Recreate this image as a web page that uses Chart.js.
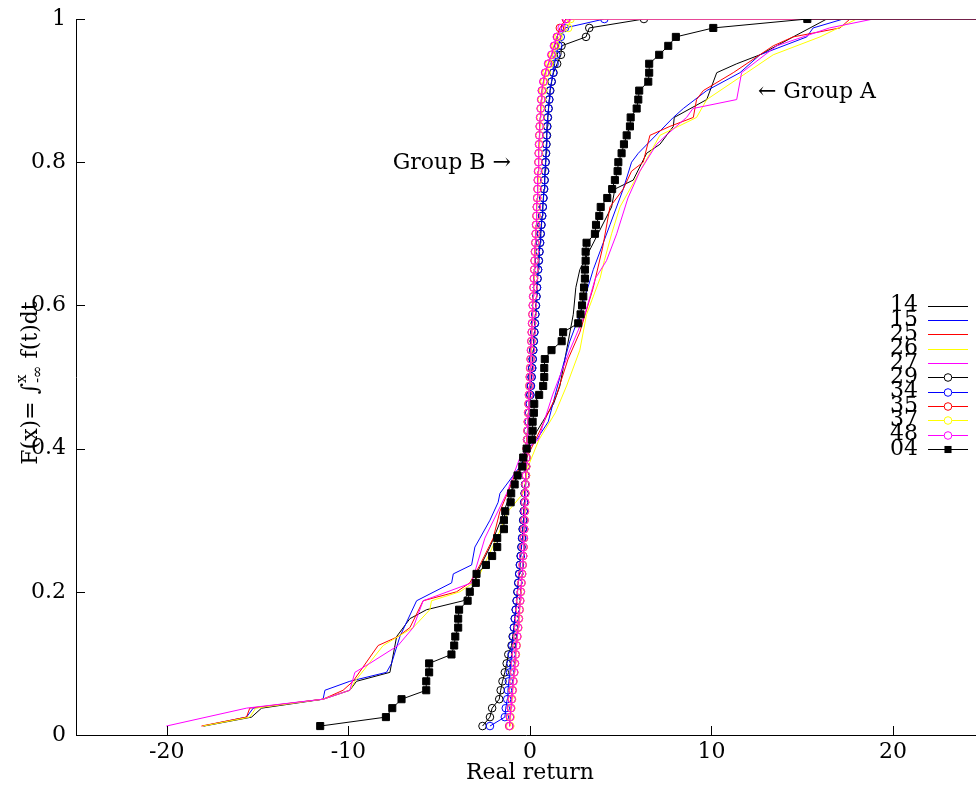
<!DOCTYPE html>
<html><head><meta charset="utf-8">
<script src="https://cdn.jsdelivr.net/npm/chart.js@4.4.1/dist/chart.umd.min.js"></script>
<style>html,body{margin:0;padding:0;background:#fff;overflow:hidden}</style>
</head><body>
<canvas id="c" width="976" height="786" style="display:block"></canvas>
<script>
const FONT = "'DejaVu Serif', serif";
const xTicks = [-20, -10, 0, 10, 20];
const xTickLabels = ['-20', '-10', '0', '10', '20'];
const yTicks = [0, 0.2, 0.4, 0.6, 0.8, 1];
const yTickLabels = ['0', '0.2', '0.4', '0.6', '0.8', '1'];
const xMin = -25, xMax = 24.57;
const tailX = 26;
const xTitle = 'Real return';
const annoA = {text: '\u2190 Group A', x: 12.56, y: 0.898};
const annoB = {text: 'Group B \u2192', x: -1.05, y: 0.799};

const seriesNames = ['14','15','25','26','27','29','34','35','37','48','04'];
const seriesColors = ['#000000','#0000ff','#ff0000','#ffff00','#ff00ff','#000000','#0000ff','#ff0000','#ffff00','#ff00ff','#000000'];

// cumulative levels for the 80-point marked series
const levels = [0.0125,0.025,0.0375,0.05,0.0625,0.075,0.0875,0.1,
0.1125,0.125,0.1375,0.15,0.1625,0.175,0.1875,0.2,
0.2125,0.225,0.2375,0.25,0.2625,0.275,0.2875,0.3,
0.3125,0.325,0.3375,0.35,0.3625,0.375,0.3875,0.4,
0.4125,0.425,0.4375,0.45,0.4625,0.475,0.4875,0.5,
0.5125,0.525,0.5375,0.55,0.5625,0.575,0.5875,0.6,
0.6125,0.625,0.6375,0.65,0.6625,0.675,0.6875,0.7,
0.7125,0.725,0.7375,0.75,0.7625,0.775,0.7875,0.8,
0.8125,0.825,0.8375,0.85,0.8625,0.875,0.8875,0.9,
0.9125,0.925,0.9375,0.95,0.9625,0.975,0.9875,1];

// Group A (lines)
const s14x = [-17.96,-15.33,-14.78,-11.39,-9.92,-9.55,-7.71,-7.34,-6.61,-5.69,-3.67,-3.03,-2.94,-2.2,-1.6,-0.9,-0.3,0.1,0.7,1.3,1.65,2.02,2.39,2.53,2.75,4.5,4.68,5.69,6.43,7.16,7.9,7.95,9.74,10.29,11.39,12.67,14.5,15.43,16.35];
const s14y = [0.0125,0.025,0.0375,0.05,0.0625,0.075,0.0875,0.1375,0.1625,0.175,0.1875,0.2125,0.225,0.2625,0.3,0.35,0.3875,0.4125,0.4375,0.4625,0.4875,0.5375,0.5875,0.625,0.65,0.7375,0.7625,0.775,0.8125,0.825,0.85,0.8625,0.8875,0.925,0.9375,0.95,0.975,0.9875,1];

const s15x = [-18.0,-15.61,-15.24,-11.39,-11.29,-9.92,-7.9,-7.62,-7.16,-6.24,-4.31,-4.22,-3.21,-3.03,-2.75,-2.2,-1.75,-1.65,-0.55,-0.09,0.37,1.01,1.65,2.2,2.75,3.49,4.41,5.14,5.6,5.97,7.9,8.45,9.74,11.57,12.67,15.25,15.6,17.26];
const s15y = [0.0125,0.025,0.0375,0.05,0.0625,0.075,0.0875,0.1,0.1375,0.1875,0.2125,0.225,0.2375,0.2625,0.275,0.3,0.325,0.3375,0.375,0.4,0.4125,0.4375,0.5,0.55,0.5875,0.65,0.7125,0.7625,0.8,0.8125,0.8625,0.875,0.9,0.925,0.95,0.975,0.9875,1];

const s25x = [-18.09,-15.61,-15.43,-11.39,-10.29,-9.74,-8.36,-7.26,-6.61,-5.88,-4.04,-3.31,-2.75,-2.02,-1.65,-0.83,-0.17,0.55,1.47,2.1,2.75,3.49,4.0,4.41,5.14,5.6,6.24,6.61,7.71,9.0,9.18,9.55,11.2,13.4,14.5,17.08,17.63];
const s25y = [0.0125,0.025,0.0375,0.05,0.0625,0.075,0.125,0.1375,0.15,0.1875,0.2,0.2125,0.2375,0.275,0.3125,0.3625,0.3875,0.425,0.475,0.525,0.5625,0.625,0.68,0.7375,0.7625,0.7875,0.8,0.8375,0.85,0.8625,0.8875,0.9,0.925,0.9625,0.975,0.9875,1];

const s26x = [-18.0,-15.43,-15.1,-11.4,-9.92,-9.64,-8.08,-7.26,-6.43,-5.51,-5.42,-3.86,-3.12,-2.75,-1.83,-1.2,-0.37,-0.1,0.5,1.4,2.02,2.75,3.12,3.86,4.1,4.5,4.96,6.34,7.16,9.18,9.74,11.94,13.4,15.98,18.0];
const s26y = [0.0125,0.025,0.0375,0.05,0.0625,0.075,0.125,0.1375,0.15,0.175,0.1875,0.2,0.2125,0.225,0.275,0.3125,0.3375,0.375,0.4125,0.45,0.4875,0.5375,0.5875,0.6375,0.6625,0.7,0.7375,0.8,0.8375,0.8625,0.8875,0.925,0.95,0.975,1];

const s27x = [-20.02,-15.61,-11.39,-9.92,-9.64,-8.82,-7.26,-6.43,-5.88,-3.21,-2.48,-1.28,-0.55,-0.18,0.46,1.25,2.2,3.03,3.6,4.22,4.78,5.4,6.06,6.98,7.5,8.63,8.98,11.39,11.66,13.59,16.5,18.91];
const s27y = [0.0125,0.0375,0.05,0.0625,0.0875,0.1,0.125,0.15,0.1875,0.2125,0.275,0.3375,0.3875,0.4,0.4125,0.475,0.5375,0.5875,0.6375,0.6625,0.7,0.75,0.7875,0.825,0.8375,0.8625,0.875,0.8875,0.925,0.9625,0.9875,1];

// Group B (line + circles), 80 points each at the levels above
const s29x = [-2.61,-2.20,-2.08,-1.69,-1.61,-1.51,-1.38,-1.28,-1.19,-1.01,
-0.95,-0.88,-0.83,-0.78,-0.73,-0.69,-0.64,-0.59,-0.55,-0.51,
-0.47,-0.43,-0.40,-0.37,-0.34,-0.31,-0.29,-0.26,-0.24,-0.22,
-0.19,-0.17,-0.14,-0.11,-0.08,-0.05,-0.02,0.02,0.05,0.09,
0.12,0.15,0.18,0.21,0.24,0.27,0.30,0.33,0.36,0.39,
0.42,0.45,0.49,0.52,0.56,0.59,0.63,0.67,0.71,0.74,
0.78,0.81,0.84,0.87,0.89,0.91,0.94,0.96,0.99,1.03,
1.07,1.12,1.20,1.30,1.50,1.71,1.74,3.09,3.27,6.28];
const s34x = [-2.20,-1.38,-1.33,-1.25,-1.21,-1.16,-1.10,-1.06,-1.01,-0.97,
-0.92,-0.88,-0.83,-0.78,-0.73,-0.68,-0.64,-0.59,-0.55,-0.50,
-0.46,-0.43,-0.39,-0.36,-0.33,-0.31,-0.28,-0.26,-0.24,-0.21,
-0.19,-0.17,-0.14,-0.11,-0.08,-0.05,-0.01,0.03,0.06,0.10,
0.13,0.16,0.19,0.22,0.25,0.28,0.30,0.33,0.36,0.39,
0.42,0.45,0.49,0.53,0.56,0.60,0.64,0.68,0.71,0.75,
0.78,0.81,0.83,0.86,0.88,0.90,0.92,0.94,0.98,1.02,
1.06,1.10,1.19,1.28,1.36,1.45,1.57,1.70,1.93,4.10];
const s35x = [-1.14,-1.10,-1.05,-1.00,-0.96,-0.92,-0.87,-0.83,-0.79,-0.74,
-0.70,-0.65,-0.61,-0.57,-0.54,-0.50,-0.47,-0.43,-0.40,-0.37,
-0.35,-0.33,-0.31,-0.30,-0.28,-0.27,-0.25,-0.24,-0.22,-0.21,
-0.19,-0.18,-0.16,-0.14,-0.12,-0.10,-0.08,-0.05,-0.03,-0.01,
0.01,0.04,0.06,0.08,0.10,0.12,0.14,0.16,0.18,0.20,
0.22,0.24,0.26,0.28,0.30,0.32,0.34,0.36,0.38,0.40,
0.42,0.44,0.45,0.47,0.49,0.51,0.52,0.54,0.57,0.60,
0.63,0.66,0.75,0.85,1.02,1.20,1.35,1.50,1.65,1.98];
const s37x = [-1.08,-1.06,-1.02,-0.98,-0.94,-0.90,-0.86,-0.82,-0.77,-0.73,
-0.69,-0.64,-0.60,-0.56,-0.53,-0.49,-0.46,-0.43,-0.40,-0.37,
-0.35,-0.33,-0.31,-0.29,-0.27,-0.26,-0.24,-0.23,-0.21,-0.20,
-0.18,-0.17,-0.15,-0.13,-0.11,-0.09,-0.07,-0.05,-0.03,0.00,
0.02,0.04,0.07,0.09,0.11,0.13,0.15,0.17,0.19,0.21,
0.23,0.25,0.27,0.29,0.31,0.33,0.35,0.37,0.39,0.41,
0.43,0.45,0.47,0.48,0.50,0.52,0.54,0.56,0.59,0.62,
0.66,0.72,0.80,0.92,1.08,1.25,1.42,1.58,2.11,2.24];
const s48x = [-1.12,-1.09,-1.04,-1.00,-0.95,-0.91,-0.86,-0.82,-0.78,-0.74,
-0.69,-0.65,-0.61,-0.57,-0.53,-0.50,-0.46,-0.43,-0.40,-0.37,
-0.35,-0.33,-0.31,-0.29,-0.28,-0.26,-0.25,-0.23,-0.22,-0.20,
-0.19,-0.17,-0.15,-0.13,-0.11,-0.09,-0.07,-0.05,-0.02,0.00,
0.02,0.04,0.06,0.08,0.10,0.12,0.14,0.16,0.18,0.20,
0.22,0.24,0.26,0.28,0.30,0.32,0.34,0.36,0.38,0.40,
0.42,0.43,0.45,0.47,0.48,0.50,0.52,0.54,0.56,0.59,
0.62,0.66,0.74,0.84,1.00,1.18,1.32,1.48,1.75,2.02];
// 04 (line + filled squares)
const s04x = [-11.55,-7.93,-7.58,-7.07,-5.71,-5.71,-5.55,-5.55,-4.32,-4.17,
-4.11,-3.95,-3.95,-3.90,-3.43,-3.31,-2.98,-2.94,-2.42,-2.08,
-1.80,-1.80,-1.43,-1.43,-1.36,-1.06,-1.03,-0.84,-0.68,-0.42,
-0.37,-0.18,0.11,0.15,0.15,0.22,0.24,0.51,0.73,0.79,
0.79,0.82,1.19,1.75,1.83,2.66,2.79,2.87,2.94,2.98,
3.03,3.03,3.07,3.07,3.12,3.58,3.64,3.82,3.90,4.26,
4.53,4.68,4.83,4.87,5.05,5.18,5.33,5.51,5.55,5.88,
5.97,6.02,6.52,6.57,6.57,7.12,7.62,8.04,10.10,15.28];

function zip(xs, ys) {
  const p = xs.map((x, i) => ({x: x, y: ys[i]}));
  p.push({x: tailX, y: 1});
  return p;
}

const seriesData = [
  zip(s14x, s14y), zip(s15x, s15y), zip(s25x, s25y), zip(s26x, s26y), zip(s27x, s27y),
  zip(s29x, levels), zip(s34x, levels), zip(s35x, levels), zip(s37x, levels), zip(s48x, levels),
  zip(s04x, levels)
];

const datasets = seriesData.map((d, i) => {
  const marked = i >= 5;
  const square = i === 10;
  return {
    label: seriesNames[i],
    data: d,
    borderColor: seriesColors[i],
    backgroundColor: seriesColors[i],
    borderWidth: 1,
    pointRadius: marked ? (square ? 5 : 3.8) : 0,
    pointStyle: square ? 'rect' : 'circle',
    pointBorderColor: seriesColors[i],
    pointBackgroundColor: square ? seriesColors[i] : 'rgba(0,0,0,0)',
    pointBorderWidth: 1,
    tension: 0,
    fill: false,
    order: 20 - i
  };
});

const TXT = '22px ' + FONT;

// stretch the plot area to the right edge of the canvas, as in the source figure
const stretch = {
  id: 'stretch',
  afterLayout(chart) {
    const x = chart.scales.x, a = chart.chartArea, right = chart.width;
    a.right = right; a.width = right - a.left;
    x.right = right; x.width = right - x.left;
    x.configure();
  }
};

const decor = {
  id: 'decor',
  afterDraw(chart) {
    const ctx = chart.ctx, a = chart.chartArea, x = chart.scales.x, y = chart.scales.y;
    ctx.save();
    ctx.strokeStyle = '#000'; ctx.lineWidth = 1;
    ctx.beginPath();
    yTicks.forEach(v => { const py = Math.round(y.getPixelForValue(v)) + 0.5; ctx.moveTo(a.left, py); ctx.lineTo(a.left + 9, py); });
    xTicks.forEach(v => { const px = Math.round(x.getPixelForValue(v)) + 0.5; ctx.moveTo(px, a.bottom); ctx.lineTo(px, a.bottom - 9); });
    ctx.stroke();

    ctx.fillStyle = '#000';
    ctx.font = TXT;
    ctx.textAlign = 'center'; ctx.textBaseline = 'middle';
    ctx.fillText(xTitle, x.getPixelForValue(0), 773);

    ctx.textAlign = 'left';
    ctx.fillText(annoA.text, x.getPixelForValue(annoA.x), y.getPixelForValue(annoA.y));
    ctx.textAlign = 'right';
    ctx.fillText(annoB.text, x.getPixelForValue(annoB.x), y.getPixelForValue(annoB.y));

    // y title (rotated)
    const big = TXT, small = '15px ' + FONT;
    ctx.save();
    ctx.translate(30, 383);
    ctx.rotate(-Math.PI / 2);
    ctx.textAlign = 'left'; ctx.textBaseline = 'alphabetic';
    ctx.font = big; const w1 = ctx.measureText('F(x)= \u222B').width;
    ctx.font = small; const wsup = ctx.measureText('x').width, wsub = ctx.measureText('-\u221E').width;
    const ws = Math.max(wsup, wsub);
    ctx.font = big; const w3 = ctx.measureText(' f(t)dt').width;
    let u = -(w1 + ws + w3) / 2;
    const base = 7;
    ctx.font = big; ctx.fillText('F(x)= \u222B', u, base); u += w1;
    ctx.font = small; ctx.fillText('x', u, base - 11); ctx.fillText('-\u221E', u, base + 5); u += ws;
    ctx.font = big; ctx.fillText(' f(t)dt', u, base);
    ctx.restore();

    // legend
    chart.data.datasets.forEach((ds, i) => {
      const ly = 305.5 + i * 14.36;
      ctx.font = TXT;
      ctx.fillStyle = '#000';
      ctx.textAlign = 'right'; ctx.textBaseline = 'middle';
      ctx.fillText(ds.label, 918, ly);
      ctx.strokeStyle = ds.borderColor; ctx.lineWidth = 1;
      const yy = Math.round(ly) + 0.5;
      ctx.beginPath(); ctx.moveTo(928, yy); ctx.lineTo(968, yy); ctx.stroke();
      if (ds.pointRadius > 0) {
        if (ds.pointStyle === 'rect') {
          const s = ds.pointRadius * Math.SQRT1_2;
          ctx.fillStyle = ds.pointBackgroundColor;
          ctx.fillRect(948 - s, yy - s, 2 * s, 2 * s);
        } else {
          ctx.beginPath(); ctx.arc(948, yy, ds.pointRadius, 0, Math.PI * 2);
          ctx.fillStyle = '#fff'; ctx.fill(); ctx.stroke();
        }
      }
    });
    ctx.restore();
  }
};

new Chart(document.getElementById('c'), {
  type: 'line',
  data: {datasets: datasets},
  options: {
    responsive: false, animation: false, devicePixelRatio: 1, events: [],
    layout: {padding: {top: 19, left: 0, right: 0, bottom: 0}},
    plugins: {legend: {display: false}, tooltip: {enabled: false}},
    scales: {
      x: {
        type: 'linear', min: xMin, max: xMax,
        afterBuildTicks: s => { s.ticks = xTicks.map(v => ({value: v})); },
        afterFit: s => { s.height = 51; s.paddingLeft = 0; s.paddingRight = 0; },
        grid: {display: false, drawTicks: false},
        border: {display: true, color: '#000', width: 1},
        ticks: {padding: 4, color: '#000', font: {family: FONT, size: 22}, maxRotation: 0, autoSkip: false,
          callback: (v, i) => xTickLabels[i]}
      },
      y: {
        type: 'linear', min: 0, max: 1,
        afterBuildTicks: s => { s.ticks = yTicks.map(v => ({value: v})); },
        afterFit: s => { s.width = 76; s.paddingTop = 0; s.paddingBottom = 0; },
        grid: {display: false, drawTicks: false},
        border: {display: true, color: '#000', width: 1},
        ticks: {padding: 10, color: '#000', font: {family: FONT, size: 22}, autoSkip: false,
          callback: (v, i) => yTickLabels[i]}
      }
    }
  },
  plugins: [stretch, decor]
});
</script>
</body></html>
